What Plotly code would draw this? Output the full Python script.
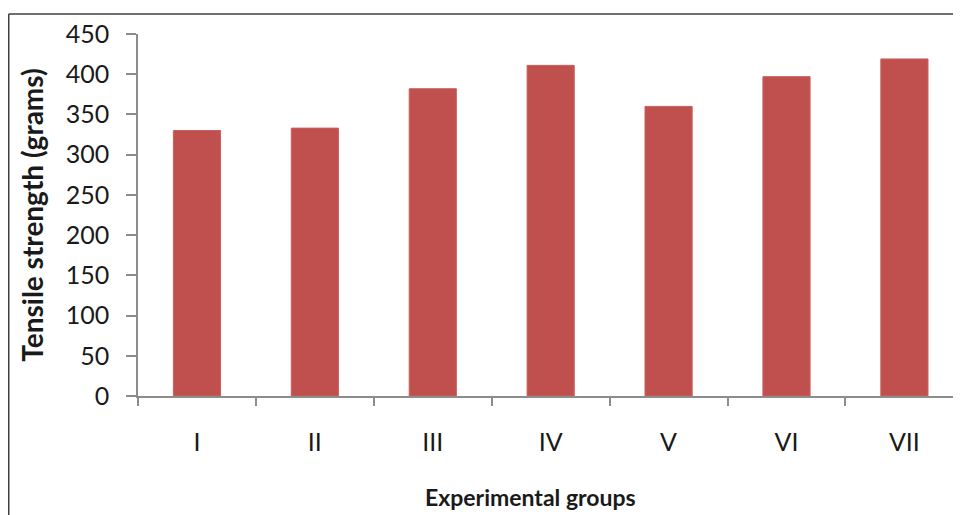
import plotly.graph_objects as go

groups = ["I", "II", "III", "IV", "V", "VI", "VII"]
tensile = [330, 333, 382, 411, 360, 397, 419]
y_ticks = [0, 50, 100, 150, 200, 250, 300, 350, 400, 450]
x_title = "Experimental groups"
y_title = "Tensile strength (grams)"

# page is offset by 8px body margin; figure coordinates below
W, H = 961, 515
ml, mr, mt, mb = 130, 8, 26, 127
pw, ph = W - ml - mr, H - mt - mb

def px_x(p):
    return (p - ml) / pw

def px_y(p):
    return (H - mb - p) / ph

fig = go.Figure(go.Bar(
    x=groups, y=tensile,
    marker=dict(color="#C0504D", line=dict(color="#C9605D", width=1)),
))

fig.update_layout(
    width=W, height=H,
    margin=dict(l=ml, r=mr, t=mt, b=mb),
    paper_bgcolor="white", plot_bgcolor="white",
    bargap=0.6, showlegend=False,
    font=dict(family="Lato, Open Sans, sans-serif", size=25, color="#1a1a1a"),
    xaxis=dict(
        range=[-0.5, 6.48], showgrid=False, showline=True, linecolor="#8c8c8c", linewidth=1.5,
        ticks="outside", ticklen=8, tickcolor="#8c8c8c", tickwidth=1.5,
        tickson="boundaries", ticklabelstandoff=23,
    ),
    yaxis=dict(
        range=[0, 450], tickvals=y_ticks, showgrid=False, showline=True,
        linecolor="#8c8c8c", linewidth=1.5, zeroline=False,
        ticks="outside", ticklen=10, tickcolor="#8c8c8c", tickwidth=1.5,
        ticklabelstandoff=12,
        title=dict(text="<b>" + y_title + "</b>", font=dict(size=28), standoff=14),
    ),
    annotations=[
        dict(text="<b>" + x_title + "</b>", xref="paper", yref="paper",
             x=px_x(522), y=px_y(489), xanchor="center", yanchor="middle",
             showarrow=False, font=dict(size=23, color="#1a1a1a")),
    ],
    shapes=[
        dict(type="line", xref="paper", yref="paper",
             x0=px_x(0.75), x1=px_x(0.75), y0=px_y(H + 5), y1=px_y(6),
             line=dict(color="#404040", width=1.5)),
        dict(type="line", xref="paper", yref="paper",
             x0=px_x(0.75), x1=px_x(W + 5), y0=px_y(6), y1=px_y(6),
             line=dict(color="#404040", width=1.5)),
    ],
)

fig.write_html("out.html")
